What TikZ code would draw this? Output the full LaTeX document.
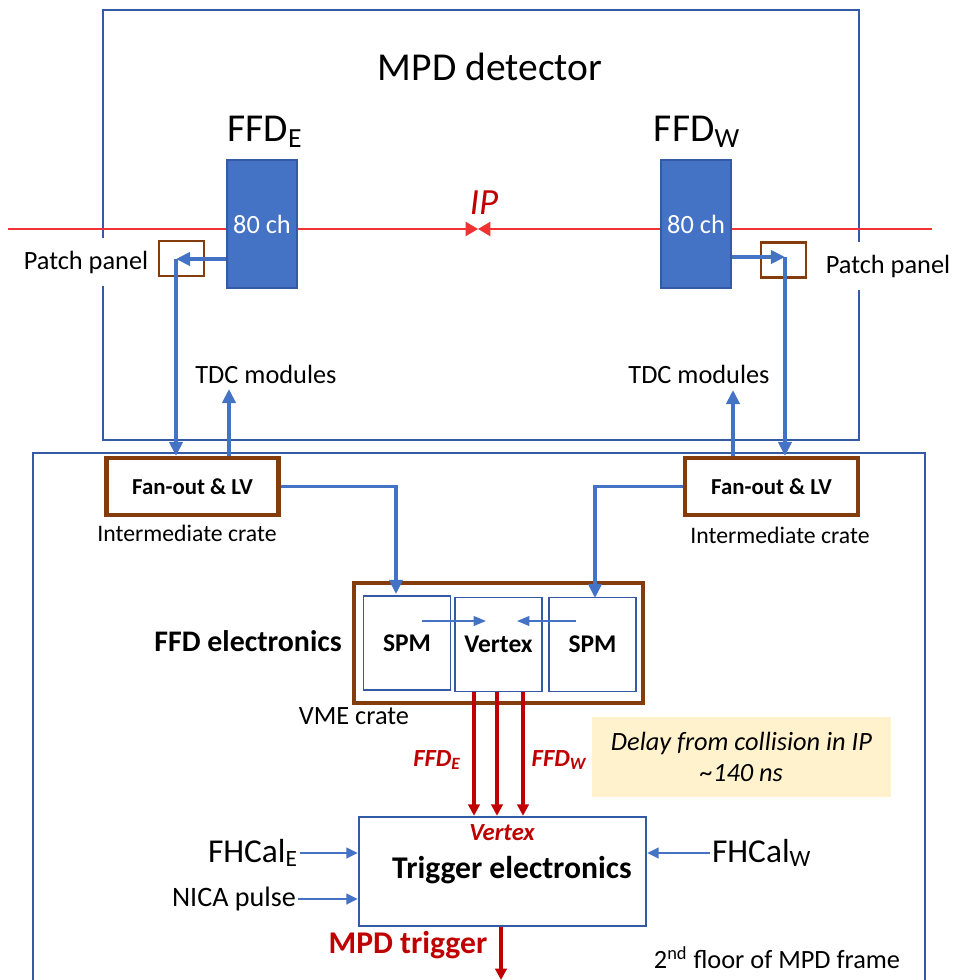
\documentclass[tikz,border=0pt]{standalone}
\usepackage{fontspec}
\setmainfont{Carlito}
\usepackage{tikz}
\usetikzlibrary{arrows.meta,calc}

\definecolor{frameblue}{RGB}{52,90,165}
\definecolor{linkblue}{RGB}{68,114,196}
\definecolor{crate}{RGB}{132,60,12}
\definecolor{sigred}{RGB}{192,0,0}
\definecolor{beamred}{RGB}{240,50,50}
\definecolor{delaybg}{RGB}{255,242,204}

\newcommand{\fsz}[1]{\fontsize{#1}{\fpeval{1.2*#1}}\selectfont}

\begin{document}
\begin{tikzpicture}[x=0.02cm,y=-0.02cm,
    mpdframe/.style={draw=frameblue,line width=0.9pt},
    beam/.style={draw=beamred,line width=1.2pt,-{Triangle[length=7pt,width=8pt]}},
    link/.style={draw=linkblue,line width=2pt,-{Triangle[length=8pt,width=7.5pt]}},
    thinlink/.style={draw=linkblue,line width=1pt,-{Triangle[length=7pt,width=5.5pt]}},
    inlink/.style={draw=linkblue,line width=1.5pt,-{Triangle[length=6.5pt,width=6pt]}},
    sig/.style={draw=sigred,line width=1.8pt,-{Triangle[length=6.5pt,width=6.5pt]}},
    detblock/.style={fill=linkblue,draw=frameblue,line width=0.6pt,inner sep=0pt,
        minimum width=1.4cm,minimum height=2.56cm,text=white,font=\fsz{15}},
    patchbox/.style={draw=crate,line width=1.2pt,minimum width=0.9cm,minimum height=0.7cm},
    cratebox/.style={draw=crate,line width=2.3pt,inner sep=0pt},
    modbox/.style={draw=frameblue,line width=0.9pt,minimum width=1.74cm,minimum height=1.88cm,
        inner sep=0pt,font=\bfseries\fsz{14.5}},
    txt/.style={inner sep=1pt,font=\fsz{15}},
    redtxt/.style={inner sep=1pt,text=sigred,font=\bfseries\itshape\fsz{14}}
]
\useasboundingbox (0,0) rectangle (953,980);

% Frames
\draw[mpdframe] (103,10) rectangle (859,440);
\draw[mpdframe] (33,990) |- (925,453) -- (925,990);
\node[font=\fsz{22.5}] (mpd) at (490,67) {MPD detector};

% Beam line
\coordinate (ip) at (478,229);
\draw[beam] (8,229) -- (ip);
\draw[beam] (932,229) -- (ip);
\node[font=\itshape\fsz{21},text=sigred] (iplabel) at (484,203) {IP};

% FFD arms
\node[detblock] (ffdE) at (262,224) {80 ch};
\node[detblock] (ffdW) at (696,224) {80 ch};
\node[font=\fsz{22.5}] (ffdElabel) at (265,132) {FFD\textsubscript{E}};
\node[font=\fsz{22.5}] (ffdWlabel) at (697,132) {FFD\textsubscript{W}};

% Patch panels
\node[patchbox] (ppE) at (181.5,258.5) {};
\node[patchbox] (ppW) at (783.5,260) {};
\node[txt,fill=white,inner ysep=7pt] (ppElabel) at (86,262) {Patch panel};
\node[txt,fill=white,inner ysep=7pt] (ppWlabel) at (888,266) {Patch panel};

\node[txt] (tdcE) at (266,374) {TDC modules};
\node[txt] (tdcW) at (699,374) {TDC modules};

% Intermediate crates
\node[cratebox,minimum width=3.44cm,minimum height=1.14cm,font=\bfseries\fsz{13}] (fanE) at (192.5,486.5) {Fan-out \& LV};
\node[cratebox,minimum width=3.46cm,minimum height=1.14cm,font=\bfseries\fsz{13}] (fanW) at (771.5,486.5) {Fan-out \& LV};
\node[txt,font=\fsz{13.5}] (crE) at (187,533) {Intermediate crate};
\node[txt,font=\fsz{13.5}] (crW) at (780,535) {Intermediate crate};

% VME crate
\node[cratebox,minimum width=5.78cm,minimum height=2.4cm] (vme) at (498.5,643) {};
\node[modbox] (spmE) at (407,643) {SPM};
\node[modbox] (vtx) at (498.5,644.5) {Vertex};
\node[modbox] (spmW) at (592.5,644.5) {SPM};
\node[font=\bfseries\fsz{17},anchor=east] (ffdel) at (348,641) {FFD electronics};
\node[txt] (vmelabel) at (354,716) {VME crate};

\node[fill=delaybg,minimum width=5.98cm,minimum height=1.6cm,align=center,
    font=\itshape\fsz{15}] (delay) at (741.5,757) {Delay from collision in IP\\\textasciitilde140 ns};

% Trigger
\node[draw=frameblue,line width=1.4pt,minimum width=5.74cm,minimum height=2.18cm] (trig) at (502.5,871.5) {};
\node[font=\bfseries\fsz{18}] (trigtxt) at (512,870) {Trigger electronics};
\node[redtxt] (vtxin) at (502,833) {Vertex};
\node[redtxt] (redE) at (437,760) {FFD\textsubscript{E}};
\node[redtxt] (redW) at (559,760) {FFD\textsubscript{W}};

\node[font=\fsz{19},anchor=east,inner sep=1pt] (fhcalE) at (300,853) {FHCal\textsubscript{E}};
\node[font=\fsz{16},anchor=east,inner sep=1pt] (nica) at (298,899) {NICA pulse};
\node[font=\fsz{19},anchor=west,inner sep=1pt] (fhcalW) at (710,853) {FHCal\textsubscript{W}};
\node[font=\bfseries\fsz{18},text=sigred] (mpdtrig) at (408,945) {MPD trigger};
\node[txt] (floor) at (777,958) {2\textsuperscript{nd} floor of MPD frame};

% East side links
\coordinate (ppEc) at (176,259);
\draw[link] (ffdE.west |- ppEc) -- (ppEc);
\draw[link] (ppEc) -- (ppEc |- fanE.north);
\coordinate (tdcEin) at (229,389);
\draw[link] (tdcEin |- fanE.north) -- (tdcEin);
\coordinate (spmEin) at (396,594);
\draw[link] (fanE.east) -| (spmEin);

% West side links
\coordinate (ppWc) at (785,257);
\draw[link] (ffdW.east |- ppWc) -- (ppWc);
\draw[link] (ppWc) -- (ppWc |- fanW.north);
\coordinate (tdcWin) at (733,390);
\draw[link] (tdcWin |- fanW.north) -- (tdcWin);
\coordinate (spmWin) at (595,598);
\draw[link] (fanW.west) -| (spmWin);

% Inside VME crate
\coordinate (spmEout) at (422,621);
\coordinate (vtxEin) at (486,621);
\coordinate (spmWout) at (576,621);
\coordinate (vtxWin) at (517,621);
\draw[thinlink] (spmEout) -- (vtxEin);
\draw[thinlink] (spmWout) -- (vtxWin);

% Signals to trigger
\foreach \x [count=\i] in {474,497,523} {
    \coordinate (r\i) at (\x,0);
    \draw[sig] (vtx.south -| r\i) -- (trig.north -| r\i);
}
\draw[inlink] (fhcalE.east) -- (fhcalE.east -| trig.west);
\draw[inlink] (nica.east) -- (nica.east -| trig.west);
\draw[inlink] (fhcalW.west) -- (fhcalW.west -| trig.east);
\coordinate (trigout) at (501,980);
\draw[sig] (trig.south -| trigout) -- (trigout);

\end{tikzpicture}
\end{document}
